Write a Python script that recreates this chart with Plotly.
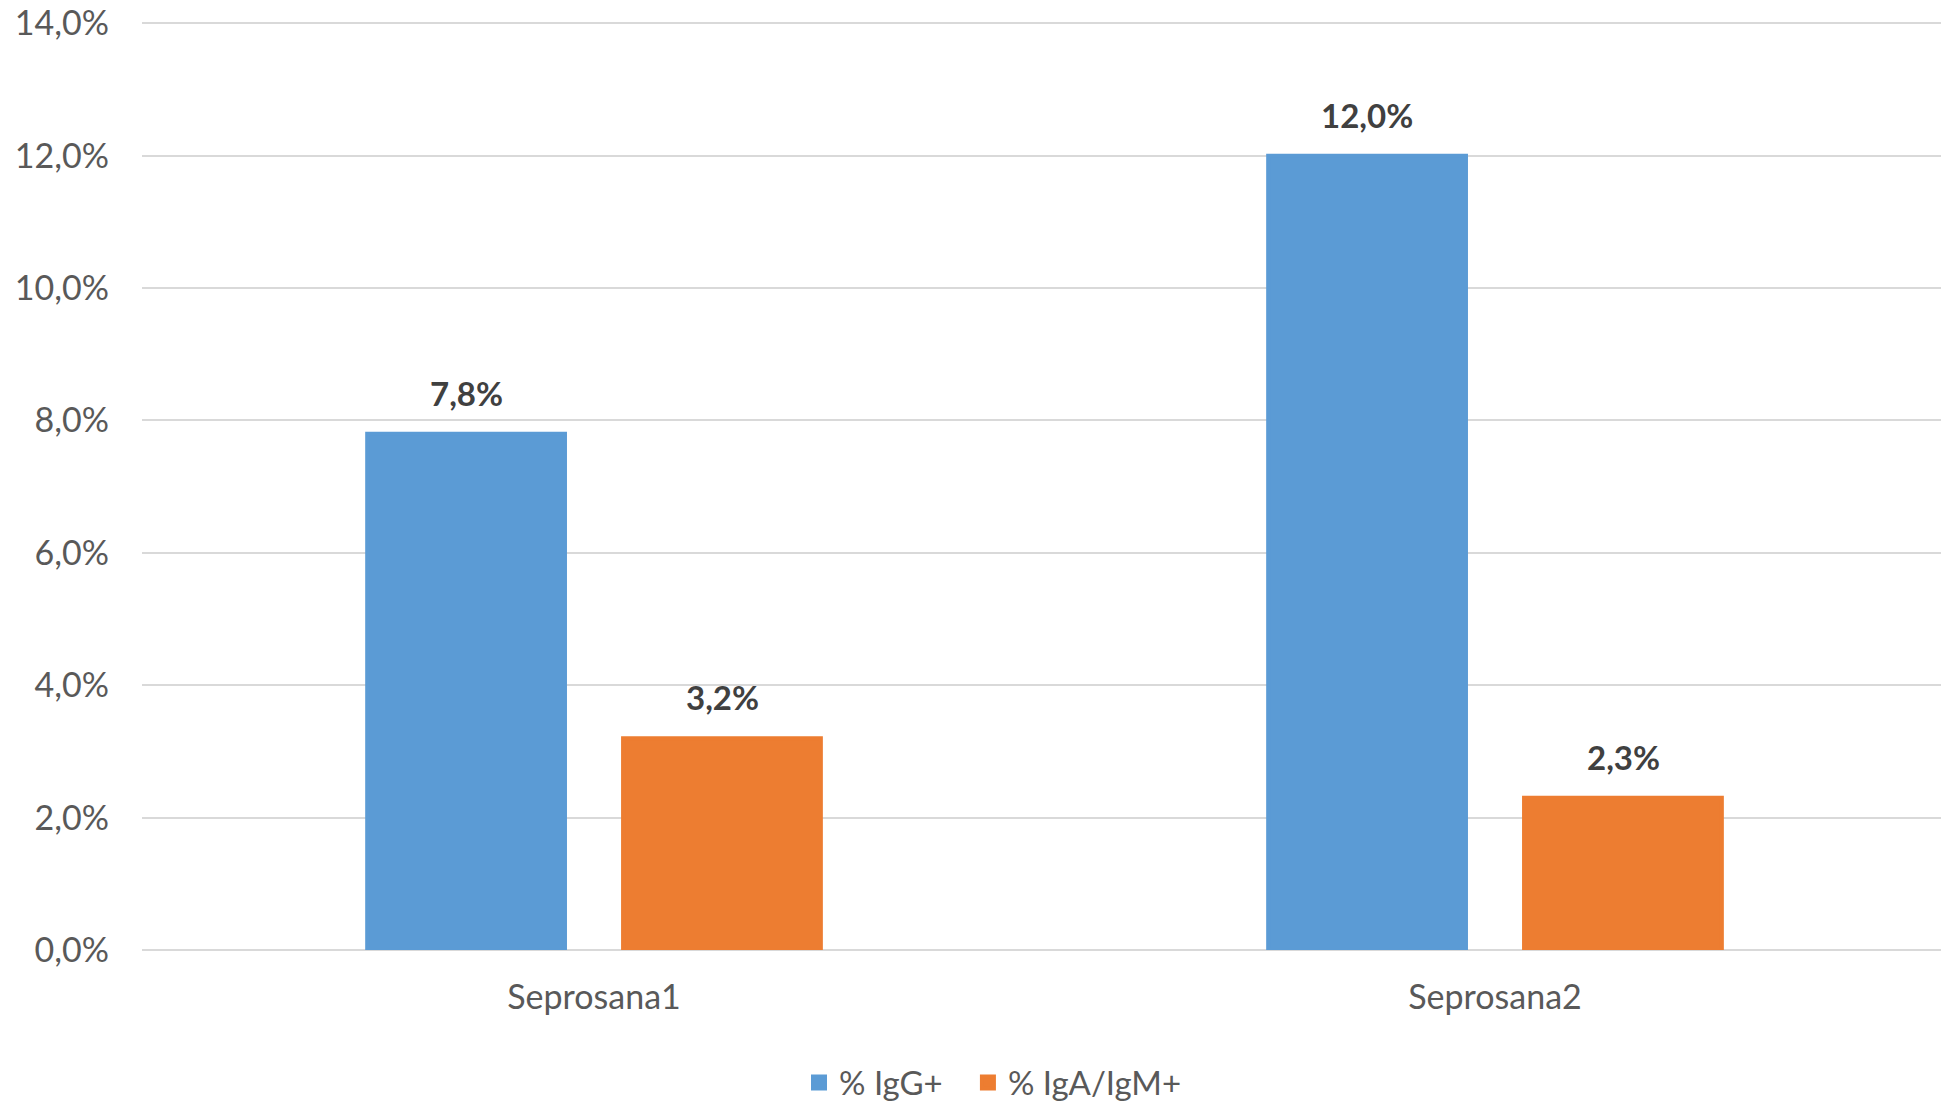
import plotly.graph_objects as go

categories = ["Seprosana1", "Seprosana2"]
igg_values = [7.8, 12.0]
igaigm_values = [3.2, 2.3]
series_names = ["% IgG+", "% IgA/IgM+"]
colors = ["#5B9BD5", "#ED7D31"]
y_ticks = [0, 2, 4, 6, 8, 10, 12, 14]

def fmt(v):
    return f"{v:.1f}".replace(".", ",") + "%"

FONT = "Lato, Calibri, Carlito, sans-serif"
legend_ids = ["legend", "legend2"]

fig = go.Figure()
for name, vals, col, lg in zip(series_names, [igg_values, igaigm_values], colors, legend_ids):
    fig.add_trace(go.Bar(
        x=categories, y=vals, name=name, legend=lg,
        marker=dict(color=col, line=dict(width=4, color=col)),
        hoverinfo="skip",
    ))

# data labels
offsets = [-128, 128]
for vals, xs in zip([igg_values, igaigm_values], offsets):
    for c, v in zip(categories, vals):
        fig.add_annotation(
            x=c, y=v, text=f"<b>{fmt(v)}</b>", showarrow=False,
            xshift=xs, yanchor="bottom", yshift=19,
            font=dict(family=FONT, size=33, color="#404040"),
        )

legend_style = dict(
    orientation="h", xanchor="left", y=-0.1428, yanchor="middle",
    font=dict(family=FONT, size=33, color="#595959"),
    bgcolor="rgba(0,0,0,0)",
)

fig.update_layout(
    width=1941, height=1101,
    margin=dict(l=142, r=0, t=22, b=151, autoexpand=False),
    paper_bgcolor="white", plot_bgcolor="white",
    barmode="group", bargap=0.432, bargroupgap=0.227,
    font=dict(family=FONT, size=34, color="#595959"),
    showlegend=True,
    legend=dict(x=0.3652, **legend_style),
    legend2=dict(x=0.4591, **legend_style),
    xaxis=dict(
        range=[-0.5017, 1.495],
        showgrid=False, showline=False, zeroline=False, ticks="",
        tickfont=dict(family=FONT, size=34, color="#595959"),
        ticklabelstandoff=24, automargin=False,
    ),
    yaxis=dict(
        range=[0, 14.02], tickvals=y_ticks,
        ticktext=[fmt(t) for t in y_ticks],
        showgrid=True, gridcolor="#D9D9D9", gridwidth=1.5,
        zeroline=True, zerolinecolor="#D9D9D9", zerolinewidth=1.5,
        showline=False, ticks="",
        tickfont=dict(family=FONT, size=34, color="#595959"),
        ticklabelstandoff=32, automargin=False,
        ticklabeloverflow="allow",
    ),
)

fig.write_html(
    "out.html",
    config={"displayModeBar": False},
    post_script="document.body.style.margin='0px';",
)
